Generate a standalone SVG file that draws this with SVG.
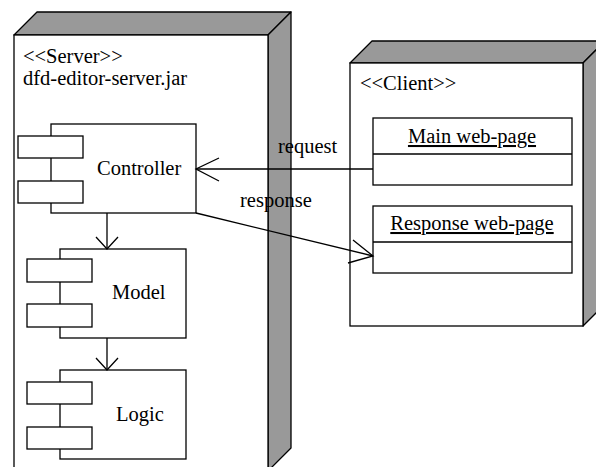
<svg xmlns="http://www.w3.org/2000/svg" width="596" height="467" viewBox="0 0 596 467">
<style>
.ln{fill:none;stroke:#000;stroke-width:1.3}
.face{fill:#fff;stroke:#000;stroke-width:1.3}
.shade{fill:#999;stroke:#000;stroke-width:1.3;stroke-linejoin:round}
.t{font-family:'Liberation Serif','Times New Roman','DejaVu Serif',serif;font-size:20.5px;fill:#000}
.u{text-decoration:underline}
</style>
<rect width="596" height="467" fill="#fff"/>
<g id="server">
<polygon class="shade" points="14,35 37,12 291,12 268,35"/>
<polygon class="shade" points="268,35 291,12 291,448 268,471"/>
<rect class="face" x="14" y="35" width="254" height="436"/>
<text class="t" x="23" y="63">&lt;&lt;Server&gt;&gt;</text>
<text class="t" x="23" y="85">dfd-editor-server.jar</text>
</g>
<g id="controller">
<rect class="face" x="51" y="124" width="145" height="89"/>
<rect class="face" x="18" y="136" width="65" height="22"/>
<rect class="face" x="18" y="181" width="65" height="22"/>
<text class="t" x="97" y="175">Controller</text>
</g>
<g id="model">
<rect class="face" x="60" y="249" width="126" height="89"/>
<rect class="face" x="27" y="259" width="65" height="23"/>
<rect class="face" x="27" y="304" width="65" height="23"/>
<text class="t" x="112" y="299">Model</text>
</g>
<g id="logic">
<rect class="face" x="60" y="370" width="126" height="89"/>
<rect class="face" x="27" y="382" width="65" height="22"/>
<rect class="face" x="27" y="427" width="65" height="22"/>
<text class="t" x="116" y="421">Logic</text>
</g>
<g id="client">
<polygon class="shade" points="350,63 372,41 605,41 583,63"/>
<polygon class="shade" points="583,63 605,41 605,304 583,326"/>
<rect class="face" x="350" y="63" width="233" height="263"/>
<text class="t" x="360" y="90">&lt;&lt;Client&gt;&gt;</text>
</g>
<g id="main-page">
<rect class="face" x="373" y="118" width="199" height="67"/>
<line class="ln" x1="373" y1="154" x2="572" y2="154"/>
<text class="t u" x="472" y="143" text-anchor="middle">Main web-page</text>
</g>
<g id="response-page">
<rect class="face" x="373" y="206" width="199" height="67"/>
<line class="ln" x1="373" y1="242" x2="572" y2="242"/>
<text class="t u" x="472" y="230" text-anchor="middle">Response web-page</text>
</g>
<g id="connectors">
<line class="ln" x1="107" y1="213" x2="107" y2="249"/>
<polyline class="ln" points="96,237 107,249 118,237"/>
<line class="ln" x1="107" y1="338" x2="107" y2="370"/>
<polyline class="ln" points="96,358 107,370 118,358"/>
<line class="ln" x1="373" y1="169" x2="196" y2="169"/>
<polyline class="ln" points="219,158 196,169 219,181"/>
<text class="t" x="278" y="153">request</text>
<line class="ln" x1="196" y1="213" x2="373" y2="256"/>
<polyline class="ln" points="353,240 373,256 348,263"/>
<text class="t" x="240" y="207">response</text>
</g>
</svg>
